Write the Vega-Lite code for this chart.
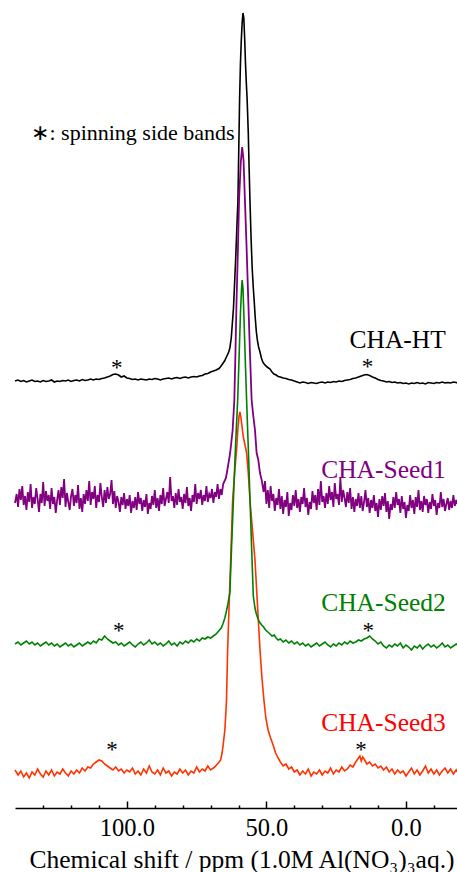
{
 "$schema": "https://vega.github.io/schema/vega-lite/v6.json",
 "width": 442, "height": 808,
 "autosize": {"type": "none"},
 "padding": {"left": 15, "top": 0, "right": 0, "bottom": 64},
 "background": "white",
 "config": {"view": {"stroke": null}, "font": "Liberation Serif"},
 "encoding": {
  "x": {"field": "x", "type": "quantitative",
   "scale": {"domain": [-18.3, 140.1], "reverse": true, "nice": false, "zero": false},
   "axis": {"values": [130,120,110,100,90,80,70,60,50,40,30,20,10,0,-10],
    "labelExpr": "datum.value % 50 === 0 ? format(datum.value, '.1f') : ''",
    "grid": false, "domainColor": "black", "domainWidth": 1.5, "tickColor": "black", "tickWidth": 1.5,
    "tickSize": {"condition": {"test": "datum.value % 50 === 0", "value": -7}, "value": -3},
    "labelFont": "Liberation Serif", "labelFontSize": 24.5, "labelColor": "black", "labelPadding": 15,
    "labelFlush": false, "labelOverlap": false,
    "title": "Chemical shift / ppm (1.0M Al(NO₃)₃aq.)",
    "titleFont": "Liberation Serif", "titleFontSize": 25.5, "titleFontWeight": "normal", "titleColor": "black",
    "titleBaseline": "alphabetic", "titleY": 59, "titleX": 226.5}},
  "y": {"field": "y", "type": "quantitative", "scale": {"domain": [0, 808], "nice": false, "zero": false}, "axis": null}
 },
 "layer": [
  {"data": {"values": [
{"x":140.1,"y":427},{"x":139,"y":428},{"x":138,"y":426.5},{"x":137,"y":427.5},{"x":136,"y":426},{"x":135,"y":427},{"x":134,"y":428},{"x":133,"y":426.5},{"x":132,"y":427},{"x":131,"y":426},{"x":130,"y":427.5},{"x":129,"y":426.5},{"x":128,"y":427},{"x":127,"y":428},{"x":126,"y":426},{"x":125,"y":427},{"x":124,"y":426.5},{"x":123,"y":427.5},{"x":122,"y":427},{"x":121,"y":428},{"x":120,"y":426.5},{"x":119,"y":427.5},{"x":118,"y":428},{"x":117,"y":427},{"x":116,"y":428.5},{"x":115,"y":427.5},{"x":114,"y":428},{"x":113,"y":429},{"x":112,"y":428},{"x":111,"y":429},{"x":110,"y":428.5},{"x":109,"y":429.5},{"x":108,"y":430},{"x":107,"y":431},{"x":106,"y":432},{"x":105,"y":433.5},{"x":104,"y":434},{"x":103,"y":433},{"x":102,"y":431},{"x":101,"y":432},{"x":100,"y":430},{"x":99,"y":429.5},{"x":98,"y":428.5},{"x":97,"y":429},{"x":96,"y":428},{"x":95,"y":429},{"x":94,"y":428.5},{"x":93,"y":428},{"x":92,"y":429},{"x":91,"y":428.5},{"x":90,"y":429.5},{"x":89,"y":429},{"x":88,"y":428},{"x":87,"y":429},{"x":86,"y":429.5},{"x":85,"y":430},{"x":84,"y":429},{"x":83,"y":430},{"x":82,"y":430.5},{"x":81,"y":429.5},{"x":80,"y":430.5},{"x":79,"y":431},{"x":78,"y":430},{"x":77,"y":431},{"x":76,"y":431.5},{"x":75,"y":431},{"x":74,"y":432},{"x":73,"y":432.5},{"x":72,"y":434},{"x":71,"y":434.5},{"x":70,"y":436},{"x":69,"y":437},{"x":68,"y":438},{"x":67,"y":439.5},{"x":66.5,"y":441},{"x":66,"y":443},{"x":65.5,"y":445},{"x":65,"y":447},{"x":64.5,"y":450},{"x":64,"y":453},{"x":63.5,"y":456},{"x":63.1,"y":460},{"x":62.6,"y":470},{"x":62.2,"y":485},{"x":61.8,"y":500},{"x":61.4,"y":525},{"x":61,"y":550},{"x":60.6,"y":580},{"x":60.2,"y":608},{"x":59.9,"y":660},{"x":59.6,"y":710},{"x":59.3,"y":745},{"x":59,"y":768},{"x":58.7,"y":785},{"x":58.4,"y":795},{"x":58.1,"y":790},{"x":57.8,"y":770},{"x":57.5,"y":745},{"x":57.2,"y":725},{"x":56.9,"y":708},{"x":56.5,"y":675},{"x":56.2,"y":640},{"x":55.9,"y":608},{"x":55.5,"y":570},{"x":55.1,"y":540},{"x":54.7,"y":520},{"x":54.4,"y":508},{"x":54,"y":490},{"x":53.6,"y":476},{"x":53.2,"y":467},{"x":52.8,"y":461},{"x":52.3,"y":456},{"x":51.8,"y":450},{"x":51.3,"y":446},{"x":50.8,"y":444},{"x":50.2,"y":442},{"x":49.5,"y":440.5},{"x":48.7,"y":439},{"x":48,"y":436},{"x":47.3,"y":434},{"x":46.5,"y":433},{"x":45.8,"y":431.5},{"x":45,"y":431},{"x":44,"y":430},{"x":43,"y":429.5},{"x":42,"y":428.5},{"x":41,"y":428},{"x":40,"y":427},{"x":39,"y":426},{"x":38,"y":425},{"x":37,"y":426},{"x":36,"y":425.5},{"x":35,"y":424.5},{"x":34,"y":425.5},{"x":33,"y":425},{"x":32,"y":424.5},{"x":31,"y":425.5},{"x":30,"y":426},{"x":29,"y":425},{"x":28,"y":426},{"x":27,"y":425.5},{"x":26,"y":426.5},{"x":25,"y":426},{"x":24,"y":427},{"x":23,"y":426.5},{"x":22,"y":427.5},{"x":21,"y":428},{"x":20,"y":428.5},{"x":19,"y":429.5},{"x":18,"y":430},{"x":17,"y":431},{"x":16,"y":432},{"x":15,"y":433},{"x":14,"y":433.5},{"x":13,"y":432.5},{"x":12,"y":431},{"x":11,"y":430},{"x":10,"y":428.5},{"x":9,"y":427.5},{"x":8,"y":427},{"x":7,"y":426},{"x":6,"y":426.5},{"x":5,"y":425.5},{"x":4,"y":426},{"x":3,"y":425},{"x":2,"y":425.5},{"x":1,"y":424.5},{"x":0,"y":425},{"x":-1,"y":424},{"x":-2,"y":425},{"x":-3,"y":424.5},{"x":-4,"y":425.5},{"x":-5,"y":424.5},{"x":-6,"y":425},{"x":-7,"y":424},{"x":-8,"y":425.5},{"x":-9,"y":425},{"x":-10,"y":424.5},{"x":-11,"y":425.5},{"x":-12,"y":425},{"x":-13,"y":426},{"x":-14,"y":425},{"x":-15,"y":425.5},{"x":-16,"y":425},{"x":-17,"y":426},{"x":-18,"y":425.5},{"x":-18.3,"y":425}
  ]}, "mark": {"type": "line", "color": "black", "strokeWidth": 1.6}},
  {"data": {"values": [
{"x":140.1,"y":305},{"x":139.5,"y":314},{"x":139,"y":301},{"x":138.5,"y":319},{"x":138,"y":308},{"x":137.5,"y":322},{"x":137,"y":303},{"x":136.5,"y":312},{"x":136,"y":298},{"x":135.5,"y":316},{"x":135,"y":306},{"x":134.5,"y":324},{"x":134,"y":300},{"x":133.5,"y":311},{"x":133,"y":304},{"x":132.5,"y":320},{"x":132,"y":309},{"x":131.5,"y":296},{"x":131,"y":314},{"x":130.5,"y":305},{"x":130,"y":326},{"x":129.5,"y":302},{"x":129,"y":317},{"x":128.5,"y":307},{"x":128,"y":313},{"x":127.5,"y":299},{"x":127,"y":320},{"x":126.5,"y":304},{"x":126,"y":311},{"x":125.5,"y":295},{"x":125,"y":308},{"x":124.5,"y":318},{"x":124,"y":303},{"x":123.5,"y":321},{"x":123,"y":310},{"x":122.5,"y":329},{"x":122,"y":301},{"x":121.5,"y":315},{"x":121,"y":306},{"x":120.5,"y":298},{"x":120,"y":312},{"x":119.5,"y":319},{"x":119,"y":302},{"x":118.5,"y":313},{"x":118,"y":305},{"x":117.5,"y":323},{"x":117,"y":299},{"x":116.5,"y":310},{"x":116,"y":296},{"x":115.5,"y":314},{"x":115,"y":304},{"x":114.5,"y":318},{"x":114,"y":307},{"x":113.5,"y":327},{"x":113,"y":303},{"x":112.5,"y":316},{"x":112,"y":309},{"x":111.5,"y":322},{"x":111,"y":300},{"x":110.5,"y":313},{"x":110,"y":306},{"x":109.5,"y":325},{"x":109,"y":311},{"x":108.5,"y":301},{"x":108,"y":318},{"x":107.5,"y":305},{"x":107,"y":321},{"x":106.5,"y":309},{"x":106,"y":314},{"x":105.5,"y":328},{"x":105,"y":304},{"x":104.5,"y":317},{"x":104,"y":300},{"x":103.5,"y":312},{"x":103,"y":306},{"x":102.5,"y":296},{"x":102,"y":311},{"x":101.5,"y":303},{"x":101,"y":315},{"x":100.5,"y":299},{"x":100,"y":309},{"x":99.5,"y":302},{"x":99,"y":313},{"x":98.5,"y":295},{"x":98,"y":307},{"x":97.5,"y":300},{"x":97,"y":311},{"x":96.5,"y":298},{"x":96,"y":316},{"x":95.5,"y":304},{"x":95,"y":310},{"x":94.5,"y":297},{"x":94,"y":308},{"x":93.5,"y":301},{"x":93,"y":314},{"x":92.5,"y":294},{"x":92,"y":305},{"x":91.5,"y":299},{"x":91,"y":312},{"x":90.5,"y":303},{"x":90,"y":318},{"x":89.5,"y":300},{"x":89,"y":310},{"x":88.5,"y":297},{"x":88,"y":313},{"x":87.5,"y":304},{"x":87,"y":320},{"x":86.5,"y":302},{"x":86,"y":309},{"x":85.5,"y":316},{"x":85,"y":305},{"x":84.5,"y":331},{"x":84,"y":307},{"x":83.5,"y":312},{"x":83,"y":300},{"x":82.5,"y":315},{"x":82,"y":303},{"x":81.5,"y":319},{"x":81,"y":306},{"x":80.5,"y":311},{"x":80,"y":299},{"x":79.5,"y":314},{"x":79,"y":305},{"x":78.5,"y":321},{"x":78,"y":302},{"x":77.5,"y":310},{"x":77,"y":297},{"x":76.5,"y":313},{"x":76,"y":306},{"x":75.5,"y":324},{"x":75,"y":304},{"x":74.5,"y":315},{"x":74,"y":309},{"x":73.5,"y":318},{"x":73,"y":303},{"x":72.5,"y":313},{"x":72,"y":307},{"x":71.5,"y":322},{"x":71,"y":306},{"x":70.5,"y":314},{"x":70,"y":310},{"x":69.5,"y":319},{"x":69,"y":305},{"x":68.5,"y":316},{"x":68,"y":311},{"x":67.5,"y":324},{"x":67,"y":309},{"x":66.5,"y":319},{"x":66,"y":313},
{"x":65.5,"y":324},{"x":64.5,"y":330},{"x":63.7,"y":343},{"x":63,"y":355},{"x":62.6,"y":365},{"x":62.1,"y":378},{"x":61.5,"y":408},{"x":61.1,"y":455},{"x":60.7,"y":508},{"x":60.2,"y":560},{"x":59.8,"y":608},{"x":59.2,"y":645},{"x":58.7,"y":661},{"x":58.2,"y":648},{"x":57.7,"y":608},{"x":57.1,"y":560},{"x":56.5,"y":508},{"x":55.9,"y":455},{"x":55.3,"y":408},{"x":54.7,"y":392},{"x":54.1,"y":378},{"x":53.5,"y":355},{"x":52.9,"y":348},{"x":52.3,"y":335},{"x":51.7,"y":328},
{"x":51,"y":316},{"x":50.5,"y":327},{"x":50,"y":304},{"x":49.5,"y":318},{"x":49,"y":300},{"x":48.5,"y":322},{"x":48,"y":307},{"x":47.5,"y":314},{"x":47,"y":297},{"x":46.5,"y":310},{"x":46,"y":303},{"x":45.5,"y":319},{"x":45,"y":299},{"x":44.5,"y":312},{"x":44,"y":294},{"x":43.5,"y":308},{"x":43,"y":301},{"x":42.5,"y":316},{"x":42,"y":292},{"x":41.5,"y":305},{"x":41,"y":298},{"x":40.5,"y":313},{"x":40,"y":302},{"x":39.5,"y":318},{"x":39,"y":300},{"x":38.5,"y":309},{"x":38,"y":296},{"x":37.5,"y":311},{"x":37,"y":304},{"x":36.5,"y":320},{"x":36,"y":301},{"x":35.5,"y":310},{"x":35,"y":293},{"x":34.5,"y":306},{"x":34,"y":299},{"x":33.5,"y":317},{"x":33,"y":305},{"x":32.5,"y":313},{"x":32,"y":298},{"x":31.5,"y":319},{"x":31,"y":303},{"x":30.5,"y":327},{"x":30,"y":306},{"x":29.5,"y":312},{"x":29,"y":300},{"x":28.5,"y":315},{"x":28,"y":304},{"x":27.5,"y":322},{"x":27,"y":308},{"x":26.5,"y":316},{"x":26,"y":301},{"x":25.5,"y":325},{"x":25,"y":309},{"x":24.5,"y":314},{"x":24,"y":303},{"x":23.5,"y":330},{"x":23,"y":306},{"x":22.5,"y":318},{"x":22,"y":310},{"x":21.5,"y":301},{"x":21,"y":316},{"x":20.5,"y":305},{"x":20,"y":320},{"x":19.5,"y":299},{"x":19,"y":311},{"x":18.5,"y":296},{"x":18,"y":309},{"x":17.5,"y":302},{"x":17,"y":315},{"x":16.5,"y":300},{"x":16,"y":312},{"x":15.5,"y":297},{"x":15,"y":306},{"x":14.5,"y":318},{"x":14,"y":301},{"x":13.5,"y":310},{"x":13,"y":295},{"x":12.5,"y":308},{"x":12,"y":300},{"x":11.5,"y":313},{"x":11,"y":297},{"x":10.5,"y":305},{"x":10,"y":291},{"x":9.5,"y":309},{"x":9,"y":298},{"x":8.5,"y":312},{"x":8,"y":302},{"x":7.5,"y":315},{"x":7,"y":296},{"x":6.5,"y":307},{"x":6,"y":289},{"x":5.5,"y":304},{"x":5,"y":298},{"x":4.5,"y":311},{"x":4,"y":300},{"x":3.5,"y":316},{"x":3,"y":303},{"x":2.5,"y":309},{"x":2,"y":295},{"x":1.5,"y":312},{"x":1,"y":299},{"x":0.5,"y":306},{"x":0,"y":290},{"x":-0.5,"y":303},{"x":-1,"y":297},{"x":-1.5,"y":313},{"x":-2,"y":300},{"x":-2.5,"y":308},{"x":-3,"y":294},{"x":-3.5,"y":311},{"x":-4,"y":301},{"x":-4.5,"y":318},{"x":-5,"y":298},{"x":-5.5,"y":307},{"x":-6,"y":296},{"x":-6.5,"y":312},{"x":-7,"y":303},{"x":-7.5,"y":309},{"x":-8,"y":295},{"x":-8.5,"y":306},{"x":-9,"y":299},{"x":-9.5,"y":314},{"x":-10,"y":302},{"x":-10.5,"y":308},{"x":-11,"y":293},{"x":-11.5,"y":305},{"x":-12,"y":300},{"x":-12.5,"y":316},{"x":-13,"y":301},{"x":-13.5,"y":309},{"x":-14,"y":297},{"x":-14.5,"y":304},{"x":-15,"y":310},{"x":-15.5,"y":298},{"x":-16,"y":307},{"x":-16.5,"y":300},{"x":-17,"y":313},{"x":-17.5,"y":302},{"x":-18,"y":308},{"x":-18.3,"y":304}
  ]}, "mark": {"type": "line", "color": "#800080", "strokeWidth": 1.8}},
  {"data": {"values": [
{"x":140.1,"y":38},{"x":139,"y":33},{"x":138,"y":37},{"x":137,"y":31},{"x":136,"y":35},{"x":135,"y":30},{"x":134,"y":36},{"x":133,"y":33},{"x":132,"y":39},{"x":131,"y":34},{"x":130,"y":31},{"x":129,"y":37},{"x":128,"y":33},{"x":127,"y":38},{"x":126,"y":32},{"x":125,"y":36},{"x":124,"y":34},{"x":123,"y":39},{"x":122,"y":35},{"x":121,"y":32},{"x":120,"y":37},{"x":119,"y":34},{"x":118,"y":38},{"x":117,"y":35},{"x":116,"y":40},{"x":115,"y":37},{"x":114,"y":41},{"x":113,"y":40},{"x":112,"y":44},{"x":111,"y":46},{"x":110,"y":48},{"x":109,"y":47},{"x":108,"y":44},{"x":107,"y":42},{"x":106,"y":40},{"x":105,"y":38},{"x":104,"y":41},{"x":103,"y":37},{"x":102,"y":39},{"x":101,"y":35},{"x":100,"y":38},{"x":99,"y":36},{"x":98,"y":40},{"x":97,"y":34},{"x":96,"y":37},{"x":95,"y":33},{"x":94,"y":39},{"x":93,"y":35},{"x":92,"y":42},{"x":91,"y":36},{"x":90,"y":34},{"x":89,"y":38},{"x":88,"y":33},{"x":87,"y":40},{"x":86,"y":35},{"x":85,"y":37},{"x":84,"y":32},{"x":83,"y":36},{"x":82,"y":34},{"x":81,"y":39},{"x":80,"y":35},{"x":79,"y":38},{"x":78,"y":33},{"x":77,"y":37},{"x":76,"y":35},{"x":75,"y":41},{"x":74,"y":36},{"x":73,"y":39},{"x":72,"y":37},{"x":71,"y":42},{"x":70,"y":38},{"x":69,"y":40},{"x":68.5,"y":41},{"x":67.9,"y":43},{"x":67.2,"y":45},{"x":66.4,"y":48},{"x":65.9,"y":55},{"x":65.5,"y":63},{"x":64.9,"y":78},{"x":64.6,"y":92},{"x":64.3,"y":108},{"x":63.9,"y":158},{"x":63.3,"y":208},{"x":62.8,"y":248},{"x":62.1,"y":308},{"x":61.4,"y":335},{"x":60.7,"y":358},{"x":60.2,"y":380},{"x":59.8,"y":392},{"x":59.5,"y":396},{"x":59.1,"y":390},{"x":58.6,"y":378},{"x":58.2,"y":370},{"x":57.6,"y":362},{"x":57.1,"y":355},{"x":56.5,"y":335},{"x":55.9,"y":308},{"x":55,"y":278},{"x":54.1,"y":248},{"x":53.3,"y":208},{"x":52.8,"y":183},{"x":52.3,"y":158},{"x":51.6,"y":130},{"x":50.9,"y":108},{"x":50.2,"y":90},{"x":49.4,"y":78},{"x":48.5,"y":70},{"x":47.6,"y":63},{"x":46.7,"y":55},{"x":45.8,"y":50},{"x":45,"y":46},{"x":44,"y":42},{"x":43,"y":44},{"x":42,"y":39},{"x":41,"y":41},{"x":40,"y":36},{"x":39,"y":38},{"x":38,"y":33},{"x":37,"y":37},{"x":36,"y":34},{"x":35,"y":39},{"x":34,"y":32},{"x":33,"y":36},{"x":32,"y":34},{"x":31,"y":38},{"x":30,"y":33},{"x":29,"y":37},{"x":28,"y":35},{"x":27,"y":40},{"x":26,"y":34},{"x":25,"y":38},{"x":24,"y":36},{"x":23,"y":41},{"x":22,"y":37},{"x":21,"y":39},{"x":20,"y":43},{"x":19,"y":41},{"x":18,"y":46},{"x":17,"y":50},{"x":16.5,"y":52},{"x":16,"y":47},{"x":15.5,"y":51},{"x":15,"y":49},{"x":14,"y":44},{"x":13,"y":46},{"x":12,"y":42},{"x":11,"y":44},{"x":10,"y":40},{"x":9,"y":42},{"x":8,"y":38},{"x":7,"y":41},{"x":6,"y":36},{"x":5,"y":39},{"x":4,"y":34},{"x":3,"y":38},{"x":2,"y":35},{"x":1,"y":37},{"x":0,"y":32},{"x":-1,"y":36},{"x":-2,"y":40},{"x":-3,"y":34},{"x":-4,"y":38},{"x":-5,"y":33},{"x":-6,"y":37},{"x":-7,"y":42},{"x":-8,"y":35},{"x":-9,"y":39},{"x":-10,"y":34},{"x":-11,"y":38},{"x":-12,"y":33},{"x":-13,"y":37},{"x":-14,"y":40},{"x":-15,"y":35},{"x":-16,"y":39},{"x":-17,"y":34},{"x":-18,"y":38},{"x":-18.3,"y":36}
  ]}, "mark": {"type": "line", "color": "#ff3300", "strokeWidth": 1.6}},
  {"data": {"values": [
{"x":140.1,"y":164},{"x":139,"y":166},{"x":138,"y":163},{"x":137,"y":165},{"x":136,"y":167},{"x":135,"y":164},{"x":134,"y":166},{"x":133,"y":163},{"x":132,"y":165},{"x":131,"y":162},{"x":130,"y":164},{"x":129,"y":166},{"x":128,"y":163},{"x":127,"y":165},{"x":126,"y":162},{"x":125,"y":164},{"x":124,"y":161},{"x":123,"y":163},{"x":122,"y":165},{"x":121,"y":162},{"x":120,"y":164},{"x":119,"y":161},{"x":118,"y":163},{"x":117,"y":165},{"x":116,"y":162},{"x":115,"y":164},{"x":114,"y":166},{"x":113,"y":164},{"x":112,"y":167},{"x":111,"y":165},{"x":110,"y":169},{"x":109,"y":168},{"x":108,"y":172},{"x":107,"y":169},{"x":106,"y":167},{"x":105,"y":165},{"x":104,"y":166},{"x":103,"y":163},{"x":102,"y":165},{"x":101,"y":162},{"x":100,"y":164},{"x":99,"y":166},{"x":98,"y":163},{"x":97,"y":161},{"x":96,"y":164},{"x":95,"y":166},{"x":94,"y":163},{"x":93,"y":165},{"x":92,"y":168},{"x":91,"y":164},{"x":90,"y":166},{"x":89,"y":163},{"x":88,"y":165},{"x":87,"y":162},{"x":86,"y":164},{"x":85,"y":167},{"x":84,"y":163},{"x":83,"y":165},{"x":82,"y":162},{"x":81,"y":166},{"x":80,"y":164},{"x":79,"y":167},{"x":78,"y":165},{"x":77,"y":168},{"x":76,"y":166},{"x":75,"y":169},{"x":74,"y":167},{"x":73,"y":170},{"x":72,"y":169},{"x":71,"y":171},{"x":70,"y":170},{"x":69,"y":172},{"x":68,"y":174},{"x":67.4,"y":176},{"x":66.8,"y":178},{"x":66.2,"y":180},{"x":65.6,"y":184},{"x":64.9,"y":190},{"x":64.4,"y":196},{"x":63.8,"y":204},{"x":63.1,"y":215},{"x":62.5,"y":260},{"x":61.8,"y":310},{"x":61.1,"y":360},{"x":60.3,"y":408},{"x":59.8,"y":450},{"x":59.3,"y":495},{"x":58.9,"y":520},{"x":58.7,"y":528},{"x":58.4,"y":520},{"x":58.1,"y":495},{"x":57.6,"y":450},{"x":57.1,"y":408},{"x":56.5,"y":360},{"x":55.9,"y":310},{"x":55.3,"y":260},{"x":54.7,"y":212},{"x":54.1,"y":200},{"x":53.6,"y":194},{"x":53,"y":189},{"x":52.5,"y":186},{"x":51.7,"y":183},{"x":51,"y":181},{"x":50.3,"y":178},{"x":49.5,"y":176},{"x":48.7,"y":174},{"x":48,"y":172},{"x":47.2,"y":173},{"x":46.5,"y":170},{"x":45.8,"y":168},{"x":45,"y":169},{"x":44,"y":166},{"x":43,"y":168},{"x":42,"y":165},{"x":41,"y":167},{"x":40,"y":164},{"x":39,"y":166},{"x":38,"y":163},{"x":37,"y":165},{"x":36,"y":162},{"x":35,"y":164},{"x":34,"y":161},{"x":33,"y":163},{"x":32,"y":165},{"x":31,"y":162},{"x":30,"y":164},{"x":29,"y":166},{"x":28,"y":163},{"x":27,"y":161},{"x":26,"y":164},{"x":25,"y":162},{"x":24,"y":165},{"x":23,"y":163},{"x":22,"y":166},{"x":21,"y":164},{"x":20,"y":167},{"x":19,"y":165},{"x":18,"y":166},{"x":17,"y":168},{"x":16,"y":167},{"x":15,"y":169},{"x":14,"y":170},{"x":13,"y":172},{"x":12,"y":169},{"x":11,"y":167},{"x":10,"y":164},{"x":9,"y":166},{"x":8,"y":162},{"x":7,"y":160},{"x":6,"y":163},{"x":5,"y":161},{"x":4,"y":164},{"x":3,"y":162},{"x":2,"y":165},{"x":1,"y":160},{"x":0,"y":163},{"x":-1,"y":161},{"x":-2,"y":158},{"x":-3,"y":162},{"x":-4,"y":160},{"x":-5,"y":163},{"x":-6,"y":159},{"x":-7,"y":162},{"x":-8,"y":164},{"x":-9,"y":161},{"x":-10,"y":163},{"x":-11,"y":160},{"x":-12,"y":162},{"x":-13,"y":165},{"x":-14,"y":161},{"x":-15,"y":163},{"x":-16,"y":160},{"x":-17,"y":162},{"x":-18,"y":164},{"x":-18.3,"y":163}
  ]}, "mark": {"type": "line", "color": "#008000", "strokeWidth": 1.6}},
  {"data": {"values": [
{"x":103.6,"y":440},{"x":13.8,"y":441},{"x":102.9,"y":177},{"x":13.5,"y":177},{"x":105.3,"y":58},{"x":16.1,"y":58}
  ]}, "mark": {"type": "text", "text": "*", "fontSize": 23, "font": "Liberation Serif", "color": "black", "baseline": "middle", "align": "center"}},
  {"data": {"values": [
{"x":-14.3,"y":468,"t":"CHA-HT","c":"#000000"},{"x":-14.3,"y":338,"t":"CHA-Seed1","c":"#800080"},{"x":-14.3,"y":205,"t":"CHA-Seed2","c":"#008000"},{"x":-14.3,"y":85,"t":"CHA-Seed3","c":"#ff0000"}
  ]}, "mark": {"type": "text", "fontSize": 25.5, "font": "Liberation Serif", "baseline": "middle", "align": "right"},
   "encoding": {"text": {"field": "t"}, "color": {"field": "c", "type": "nominal", "scale": null}}},
  {"data": {"values": [{"x":134.2,"y":675,"t":"∗: spinning side bands"}]},
   "mark": {"type": "text", "fontSize": 22, "font": "Liberation Serif", "baseline": "middle", "align": "left", "color": "black"},
   "encoding": {"text": {"field": "t"}}}
 ]
}
